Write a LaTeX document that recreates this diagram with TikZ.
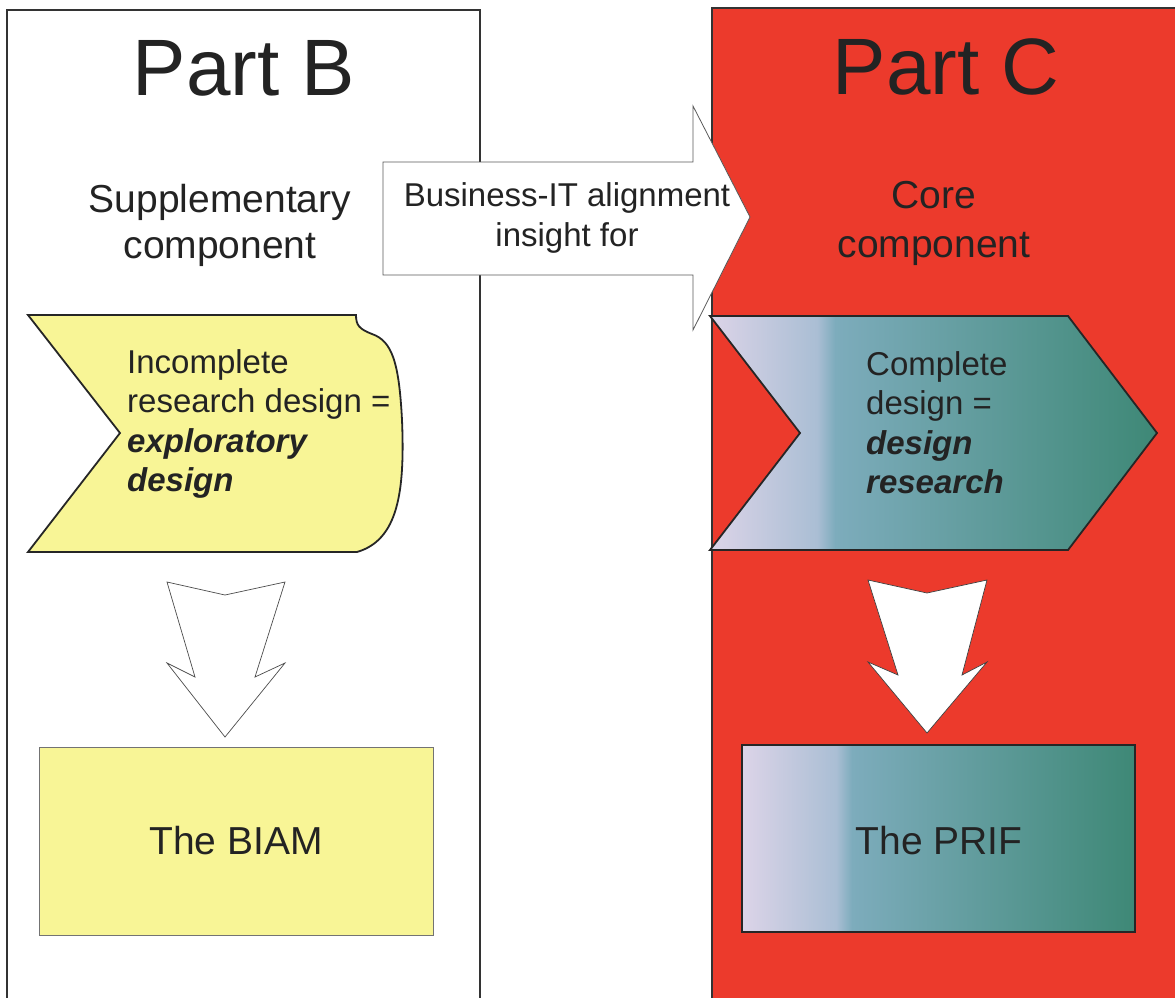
\documentclass[tikz,border=0pt]{standalone}
\usepackage{fontspec}
\setmainfont{Liberation Sans}
\definecolor{panelred}{RGB}{236,58,44}
\definecolor{ylw}{RGB}{248,245,150}
\definecolor{lav}{RGB}{220,212,232}
\definecolor{lavb}{RGB}{170,190,212}
\definecolor{tealA}{RGB}{125,172,188}
\definecolor{tealB}{RGB}{62,136,118}
\definecolor{txt}{RGB}{35,35,35}
\pgfdeclarehorizontalshading{tealshade}{100bp}{color(0bp)=(lav); color(25bp)=(lav); color(37bp)=(lavb); color(39bp)=(tealA); color(75bp)=(tealB); color(100bp)=(tealB)}
\tikzset{
  panelline/.style={draw=black!80, line width=1.4pt},
  bigarrow/.style={draw=black!65, fill=white, line width=0.8pt},
  chev/.style={draw=black!85, line width=1.8pt, line join=miter},
  lbl/.style={text=txt, inner sep=0pt, align=center},
  boxtext/.style={text=txt, inner sep=0pt, align=left, anchor=north west},
}
\begin{document}
\begin{tikzpicture}[x=1pt,y=-1pt]
\useasboundingbox (0,0) rectangle (1175,997);
\clip (0,0) rectangle (1175,997);
% panels
\draw[panelline, fill=white] (7,10) rectangle (480,1010);
\fill[panelred] (712,8) rectangle (1185,1010);
\draw[panelline] (712,1010) -- (712,8) -- (1185,8);
% titles
\node[lbl, font=\fontsize{80}{90}\selectfont] (pb) at (244,68) {Part B};
\node[lbl, font=\fontsize{80}{90}\selectfont] (pc) at (946,67) {Part C};
\node[lbl, font=\fontsize{39}{46}\selectfont] (sup) at (220,225) {Supplementary\\component};
\node[lbl, font=\fontsize{39}{49}\selectfont] (core) at (934,223) {Core\\component};
% big right arrow
\draw[bigarrow] (383,162) -- (693,162) -- (693,106) -- (750,217) -- (693,330) -- (693,275) -- (383,275) -- cycle;
\node[lbl, font=\fontsize{33}{40}\selectfont] (bit) at (567,218) {Business-IT alignment\\insight for};
% yellow chevron
\draw[chev, fill=ylw] (28,315) -- (356,315) .. controls (356,325) and (359,329) .. (372,334)
  .. controls (392,341) and (399,362) .. (402,420)
  .. controls (405,492) and (398,540) .. (357,552) -- (28,552) -- (120,433) -- cycle;
\node[boxtext, font=\fontsize{33}{39.5}\selectfont] (inc) at (127,349)
  {Incomplete\\research design =\\\textbf{\textit{exploratory}}\\\textbf{\textit{design}}};
% gradient chevron
\draw[chev, shading=tealshade] (710,316) -- (1068,316) -- (1157,433) -- (1068,550) -- (710,550) -- (800,433) -- cycle;
\node[boxtext, font=\fontsize{33}{39.5}\selectfont] (comp) at (866,351)
  {Complete\\design =\\\textbf{\textit{design}}\\\textbf{\textit{research}}};
% down arrows
\draw[draw=black!70, fill=white, line width=0.7pt] (167,582) -- (225,595) -- (285,582) -- (255,677) -- (285,663) -- (225,737) -- (167,663) -- (195,677) -- cycle;
\draw[draw=black!75, fill=white, line width=0.7pt] (868,580) -- (927,593) -- (987,580) -- (962,675) -- (987,662) -- (927,733) -- (868,662) -- (898,675) -- cycle;
% result boxes
\node[draw=black!55, line width=0.7pt, fill=ylw, minimum width=394pt, minimum height=188pt, inner sep=0pt, text=txt, font=\fontsize{39}{45}\selectfont] (biam) at (236,841) {The BIAM};
\path[draw=black!85, line width=1.8pt, shading=tealshade] (742,745) rectangle (1135,932);
\node[lbl, font=\fontsize{39}{45}\selectfont] (prif) at (939,841) {The PRIF};
\end{tikzpicture}
\end{document}
